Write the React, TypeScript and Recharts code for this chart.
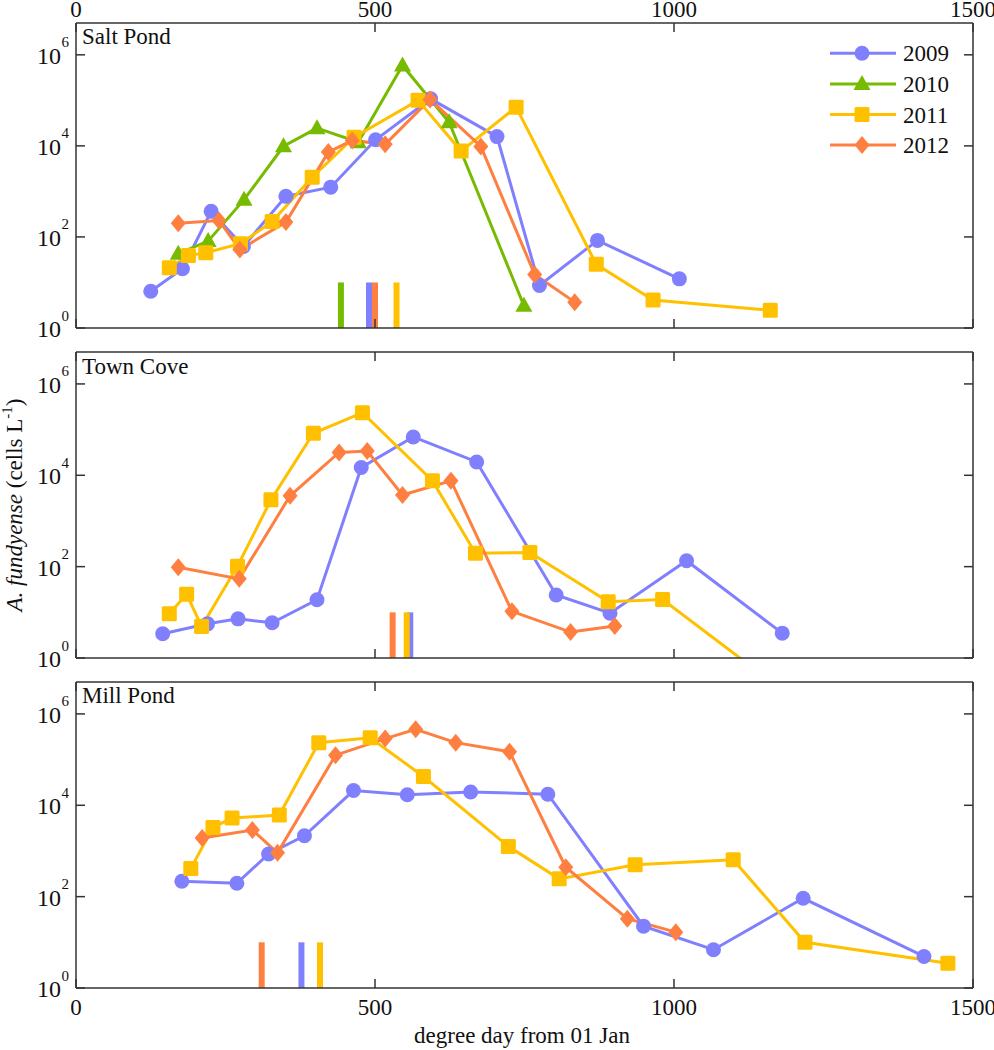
import React from "react";
import { LineChart, Line, XAxis, YAxis, ReferenceLine, Legend } from "recharts";

const FONT = '"Liberation Serif", "Times New Roman", Times, serif';

// ---------- data ----------
const years = ["2009", "2010", "2011", "2012"];
const xTicks = [0, 500, 1000, 1500];
const yTicks = [1, 100, 10000, 1000000];

// Salt Pond
const sp2009X = [125, 178, 226, 280, 351, 426, 501, 593, 704, 775, 872, 1009];
const sp2009Y = [6.4, 20, 365, 62, 780, 1240, 13600, 108000, 16000, 8.6, 84, 12];
const sp2010X = [171, 221, 281, 347, 403, 472, 546, 624, 749];
const sp2010Y = [43, 81, 660, 9800, 24500, 12000, 585000, 33000, 3.1];
const sp2011X = [156, 188, 217, 275, 328, 395, 465, 572, 644, 736, 870, 965, 1161];
const sp2011Y = [21, 39, 45, 71, 218, 2050, 15500, 100000, 7700, 71000, 25, 4.1, 2.45];
const sp2012X = [171, 239, 274, 351, 422, 462, 517, 592, 677, 767, 834];
const sp2012Y = [200, 230, 53, 212, 7300, 13200, 10800, 105000, 9700, 15, 3.7];
const spMarkX = [490, 443, 536, 500]; // 2009, 2010, 2011, 2012

// Town Cove
const tc2009X = [145, 220, 271, 328, 403, 477, 564, 670, 803, 893, 1021, 1181];
const tc2009Y = [3.4, 5.6, 7.2, 5.9, 18.8, 14800, 69000, 19600, 24, 9.6, 135, 3.5];
const tc2011X = [156, 185, 210, 270, 326, 397, 479, 596, 668, 759, 890, 981, 1200];
const tc2011Y = [9.3, 25, 4.9, 102, 2900, 83000, 235000, 7600, 196, 205, 17, 19, 0.13];
const tc2012X = [171, 273, 358, 440, 487, 546, 627, 729, 827, 901];
const tc2012Y = [97, 54, 3560, 31600, 34000, 3700, 7600, 10.5, 3.7, 5];
const tcMarkX = [559, null, 553, 529.5];

// Mill Pond
const mp2009X = [177, 269, 322, 382, 464, 554, 660, 789, 949, 1066, 1216, 1418];
const mp2009Y = [217, 196, 860, 2150, 21000, 17000, 19600, 17500, 22.6, 6.9, 92, 4.9];
const mp2011X = [192, 229, 261, 340, 406, 492, 581, 723, 808, 935, 1099, 1219, 1458];
const mp2011Y = [415, 3270, 5250, 6100, 234000, 302000, 42600, 1260, 245, 500, 645, 10, 3.5];
const mp2012X = [211, 295, 337, 434, 517, 568, 635, 725, 819, 922, 1003];
const mp2012Y = [1920, 2870, 910, 125000, 288000, 460000, 235000, 149000, 440, 33, 16.7];
const mpMarkX = [377, null, 408, 310.5];

// ---------- styles ----------
const COLORS: Record<string, string> = {
  "2009": "#8080FF",
  "2010": "#77BB00",
  "2011": "#FFC000",
  "2012": "#FF7F40",
};
const SHAPES: Record<string, string> = {
  "2009": "circle",
  "2010": "triangle",
  "2011": "square",
  "2012": "diamond",
};
const AXIS = "#333";

const zip = (xs: number[], ys: number[]) => xs.map((x, i) => ({ x, y: ys[i] }));

function Marker({ shape, cx, cy, color }: any) {
  if (cx == null || cy == null || isNaN(cx) || isNaN(cy)) return null;
  if (shape === "circle") return <circle cx={cx} cy={cy} r={7.5} fill={color} />;
  if (shape === "triangle")
    return <polygon points={`${cx},${cy - 9} ${cx + 8.5},${cy + 6} ${cx - 8.5},${cy + 6}`} fill={color} />;
  if (shape === "square")
    return <rect x={cx - 7.5} y={cy - 7.5} width={15} height={15} rx={1.5} fill={color} />;
  return <polygon points={`${cx},${cy - 9} ${cx + 7.5},${cy} ${cx},${cy + 9} ${cx - 7.5},${cy}`} fill={color} />;
}

function XTick(props: any) {
  const { x, y, payload, side, show } = props;
  const dir = side === "bottom" ? -1 : 1;
  return (
    <g>
      <line x1={x} y1={y} x2={x} y2={y + dir * 9} stroke={AXIS} strokeWidth={1.5} />
      {show && (
        <text
          x={x}
          y={side === "bottom" ? y + 27 : y - 6.5}
          textAnchor="middle"
          fontSize={23}
          fontFamily={FONT}
          fill="#111"
        >
          {payload.value}
        </text>
      )}
    </g>
  );
}

function YTick(props: any) {
  const { x, y, payload, side } = props;
  const dir = side === "left" ? 1 : -1;
  const exp = Math.round(Math.log10(payload.value));
  return (
    <g>
      <line x1={x} y1={y} x2={x + dir * 9} y2={y} stroke={AXIS} strokeWidth={1.5} />
      {side === "left" && (
        <g fontFamily={FONT} fill="#111">
          <text x={x - 15} y={y + 9} textAnchor="end" fontSize={24}>
            10
          </text>
          <text x={x - 14.5} y={y - 7.5} textAnchor="start" fontSize={15}>
            {exp}
          </text>
        </g>
      )}
    </g>
  );
}

function LegendContent(props: any) {
  const payload = props.payload || [];
  return (
    <svg width={150} height={125} style={{ overflow: "visible" }}>
      {payload.map((e: any, i: number) => {
        const name = String(e.value);
        const cy = 15.3 + i * 30.6;
        return (
          <g key={name}>
            <line x1={5} y1={cy} x2={71} y2={cy} stroke={COLORS[name]} strokeWidth={3} />
            <Marker shape={SHAPES[name]} cx={37} cy={cy} color={COLORS[name]} />
            <text x={78} y={cy + 8} fontSize={23} fontFamily={FONT} fill="#111">
              {name}
            </text>
          </g>
        );
      })}
    </svg>
  );
}

type Series = { year: string; xs: number[]; ys: number[] };

function Panel({
  series,
  marks,
  height,
  margin,
  topH,
  bottomH,
  topLabels,
  bottomLabels,
  legend,
}: {
  series: Series[];
  marks: (number | null)[];
  height: number;
  margin: any;
  topH: number;
  bottomH: number;
  topLabels: boolean;
  bottomLabels: boolean;
  legend: boolean;
}) {
  const axisLine = { stroke: AXIS, strokeWidth: 1.5 };
  return (
    <LineChart width={994} height={height} margin={margin}>
      <XAxis
        xAxisId="b"
        type="number"
        dataKey="x"
        domain={[0, 1500]}
        ticks={xTicks}
        interval={0}
        allowDataOverflow
        orientation="bottom"
        height={bottomH}
        tickSize={0}
        tickMargin={0}
        tickLine={false}
        axisLine={axisLine}
        tick={(p: any) => <XTick {...p} side="bottom" show={bottomLabels} />}
      />
      <XAxis
        xAxisId="t"
        type="number"
        dataKey="x"
        domain={[0, 1500]}
        ticks={xTicks}
        interval={0}
        allowDataOverflow
        orientation="top"
        height={topH}
        tickSize={0}
        tickMargin={0}
        tickLine={false}
        axisLine={axisLine}
        tick={(p: any) => <XTick {...p} side="top" show={topLabels} />}
      />
      <YAxis
        yAxisId="l"
        type="number"
        scale="log"
        domain={[1, 5000000]}
        ticks={yTicks}
        interval={0}
        allowDataOverflow
        orientation="left"
        width={60}
        tickSize={0}
        tickMargin={0}
        tickLine={false}
        axisLine={axisLine}
        tick={(p: any) => <YTick {...p} side="left" />}
      />
      <YAxis
        yAxisId="r"
        type="number"
        scale="log"
        domain={[1, 5000000]}
        ticks={yTicks}
        interval={0}
        allowDataOverflow
        orientation="right"
        width={1}
        tickSize={0}
        tickMargin={0}
        tickLine={false}
        axisLine={axisLine}
        tick={(p: any) => <YTick {...p} side="right" />}
      />
      {marks.map((mx, i) =>
        mx == null ? null : (
          <ReferenceLine
            key={"m" + i}
            xAxisId="b"
            yAxisId="l"
            segment={[
              { x: mx, y: 1 },
              { x: mx, y: 10 },
            ]}
            stroke={COLORS[years[i]]}
            strokeWidth={6}
          />
        )
      )}
      {series.map((s) => (
        <Line
          key={s.year}
          name={s.year}
          xAxisId="b"
          yAxisId="l"
          data={zip(s.xs, s.ys)}
          dataKey="y"
          type="linear"
          stroke={COLORS[s.year]}
          strokeWidth={3}
          isAnimationActive={false}
          dot={(p: any) => (
            <Marker key={`${s.year}-${p.index}`} shape={SHAPES[s.year]} cx={p.cx} cy={p.cy} color={COLORS[s.year]} />
          )}
          activeDot={false}
          legendType="line"
        />
      ))}
      {legend && (
        <Legend
          layout="vertical"
          align="center"
          verticalAlign="middle"
          content={(p: any) => <LegendContent {...p} />}
          wrapperStyle={{ left: 825, top: 38, width: 150, height: 125 }}
        />
      )}
    </LineChart>
  );
}

export default function App() {
  return (
    <div style={{ position: "absolute", left: 0, top: 0, width: 994, height: 1050, background: "#fff" }}>
      <div style={{ position: "absolute", left: 0, top: 0 }}>
        <Panel
          series={[
            { year: "2009", xs: sp2009X, ys: sp2009Y },
            { year: "2010", xs: sp2010X, ys: sp2010Y },
            { year: "2011", xs: sp2011X, ys: sp2011Y },
            { year: "2012", xs: sp2012X, ys: sp2012Y },
          ]}
          marks={spMarkX}
          height={340}
          margin={{ top: 0, right: 20, bottom: 11, left: 16 }}
          topH={23}
          bottomH={1}
          topLabels={true}
          bottomLabels={false}
          legend={true}
        />
      </div>
      <div style={{ position: "absolute", left: 0, top: 340 }}>
        <Panel
          series={[
            { year: "2009", xs: tc2009X, ys: tc2009Y },
            { year: "2011", xs: tc2011X, ys: tc2011Y },
            { year: "2012", xs: tc2012X, ys: tc2012Y },
          ]}
          marks={tcMarkX}
          height={330}
          margin={{ top: 11, right: 20, bottom: 11, left: 16 }}
          topH={1}
          bottomH={1}
          topLabels={false}
          bottomLabels={false}
          legend={false}
        />
      </div>
      <div style={{ position: "absolute", left: 0, top: 670 }}>
        <Panel
          series={[
            { year: "2009", xs: mp2009X, ys: mp2009Y },
            { year: "2011", xs: mp2011X, ys: mp2011Y },
            { year: "2012", xs: mp2012X, ys: mp2012Y },
          ]}
          marks={mpMarkX}
          height={380}
          margin={{ top: 11, right: 20, bottom: 12, left: 16 }}
          topH={1}
          bottomH={50}
          topLabels={false}
          bottomLabels={true}
          legend={false}
        />
      </div>
      <svg
        width={994}
        height={1050}
        style={{ position: "absolute", left: 0, top: 0, pointerEvents: "none" }}
        fontFamily={FONT}
        fill="#111"
      >
        <text x={82} y={44} fontSize={23}>Salt Pond</text>
        <text x={82} y={373.5} fontSize={23}>Town Cove</text>
        <text x={82} y={702.5} fontSize={23}>Mill Pond</text>
        <text x={522} y={1043} fontSize={23} textAnchor="middle">
          degree day from 01  Jan
        </text>
        <text x={22} y={505} fontSize={23} textAnchor="middle" transform="rotate(-90, 22, 505)">
          <tspan fontStyle="italic">A. fundyense</tspan>
          <tspan> (cells L</tspan>
          <tspan fontSize={15} dy={-10}>-1</tspan>
          <tspan dy={10}>)</tspan>
        </text>
      </svg>
    </div>
  );
}
